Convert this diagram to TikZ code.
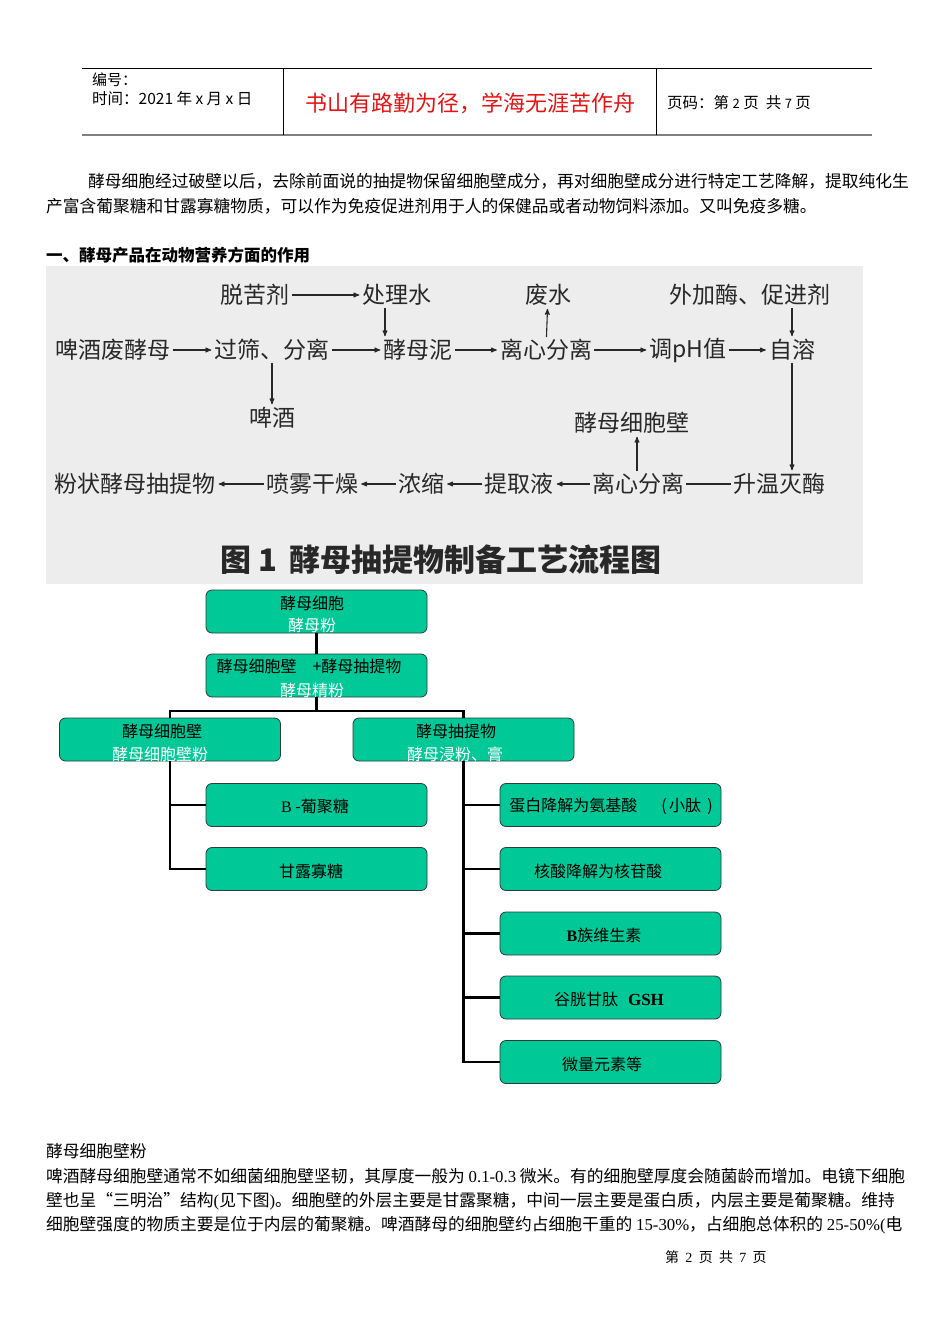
\documentclass[tikz,border=0pt]{standalone}
\usepackage{fontspec}
\setmainfont{Noto Sans CJK SC}
\newfontfamily\latinserif{Liberation Serif}
\usepackage{tikz}
\usetikzlibrary{arrows}

\definecolor{boxgreen}{RGB}{0,200,150}
\definecolor{boxline}{RGB}{45,60,55}
\definecolor{scanbg}{RGB}{237,237,237}
\definecolor{scanink}{RGB}{40,40,40}
\definecolor{mottored}{RGB}{228,20,20}
\newcommand{\setpx}[1]{\fontsize{#1}{#1}\selectfont}

\begin{document}
\begin{tikzpicture}
[x=1pt,y=-1pt,every node/.style={inner sep=0pt},
  bodytext/.style={anchor=west,font=\setpx{16.75}},
  scantext/.style={text=scanink,font=\setpx{23},inner sep=2pt},
  scanarrow/.style={->,>=stealth',draw=scanink,line width=1.1pt,shorten >=1pt},
  treebox/.style={draw=boxline,fill=boxgreen,rounded corners=6pt,minimum width=221pt,minimum height=43pt,line width=0.8pt},
  boxtitle/.style={font=\setpx{16}},
  boxsub/.style={font=\setpx{16},text=white},
  treeline/.style={line width=2.4pt,draw=black}]
  \useasboundingbox (0,0) rectangle (950,1344);
  \fill[white] (0,0) rectangle (950,1344);

  % header
  \draw[line width=0.8pt] (82,68) -- (872,68);
  \draw[line width=2pt,draw=gray] (82,135) -- (872,135);
  \draw[line width=0.8pt] (283,68) -- (283,135);
  \draw[line width=0.8pt] (656,68) -- (656,135);
  \node[anchor=west,font=\setpx{15}] (hd1) at (92,80) {编号：};
  \node[anchor=west,font=\setpx{15.5}] (hd2) at (92,99) {时间：2021 年\ x\ 月\ x\ 日};
  \node[text=mottored,font=\setpx{22}] (hd3) at (470,103) {书山有路勤为径，学海无涯苦作舟};
  \node[anchor=west,font=\setpx{15.5}] (hd4) at (667,103) {页码：第 {\setpx{13}2} 页\ \ 共 {\setpx{13}7} 页};

  % text above
  \node[bodytext] (p1) at (88,181) {酵母细胞经过破壁以后，去除前面说的抽提物保留细胞壁成分，再对细胞壁成分进行特定工艺降解，提取纯化生};
  \node[bodytext] (p2) at (46,206) {产富含葡聚糖和甘露寡糖物质，可以作为免疫促进剂用于人的保健品或者动物饲料添加。又叫免疫多糖。};
  \node[bodytext,font=\setpx{16.5}\bfseries] (h1) at (46,255) {一、酵母产品在动物营养方面的作用};

  % scanned flow chart
  \fill[scanbg] (46,266) rectangle (863,584);
  \node[scantext] (s1) at (255,295) {脱苦剂};
  \node[scantext] (s2) at (397,295) {处理水};
  \node[scantext] (s3) at (548,295) {废水};
  \node[scantext] (s4) at (750,295) {外加酶、促进剂};

  \node[scantext] (q1) at (113,350) {啤酒废酵母};
  \node[scantext] (q2) at (272,350) {过筛、分离};
  \node[scantext] (q3) at (418,350) {酵母泥};
  \node[scantext] (q4) at (546,350) {离心分离};
  \node[scantext] (q5) at (688,350) {调pH值};
  \node[scantext] (q6) at (792,350) {自溶};

  \node[scantext] (r1) at (272,418) {啤酒};
  \node[scantext] (r2) at (632,423) {酵母细胞壁};

  \node[scantext] (t1) at (135,484) {粉状酵母抽提物};
  \node[scantext] (t2) at (312,484) {喷雾干燥};
  \node[scantext] (t3) at (421,484) {浓缩};
  \node[scantext] (t4) at (519,484) {提取液};
  \node[scantext] (t5) at (638,484) {离心分离};
  \node[scantext] (t6) at (779,484) {升温灭酶};

  \node[scantext,font=\setpx{31}\bfseries] (cap) at (441,560) {图 1\, 酵母抽提物制备工艺流程图};

  \foreach \from/\to in {s1/s2,q1/q2,q2/q3,q3/q4,q4/q5,q5/q6,q4/s3,q2/r1,
      t5/t4,t4/t3,t3/t2,t2/t1}
    \draw[scanarrow] (\from) -- (\to);
  \draw[scanarrow] ([xshift=-12]s2.south) -- ([xshift=-12]s2.south |- q3.north);
  \draw[scanarrow] (q6 |- s4.south) -- (q6.north);
  \draw[scanarrow] (q6.south) -- (q6 |- t6.north);
  \draw[scanarrow] ([xshift=-1]t5.north) -- ([xshift=-1]t5.north |- r2.south);
  \draw[draw=scanink,line width=1.1pt] (t6) -- (t5);

  % tree of products
  \node[treebox] (a) at (316.5,611.5) {};
  \node[treebox] (b) at (316.5,675.5) {};
  \node[treebox] (c) at (170,739.5) {};
  \node[treebox] (d) at (463.5,739.5) {};
  \node[treebox] (e) at (316.5,805) {};
  \node[treebox] (f) at (316.5,869) {};
  \node[treebox] (g) at (610.5,805) {};
  \node[treebox] (h) at (610.5,869) {};
  \node[treebox] (i) at (610.5,933.5) {};
  \node[treebox] (j) at (610.5,997.5) {};
  \node[treebox] (k) at (610.5,1062) {};
  \coordinate (bj) at (316.5,711);

  \node[boxtitle] (a1) at (312,603) {酵母细胞};
  \node[boxsub] (a2) at (312,625) {酵母粉};
  \node[boxtitle] (b1) at (309,666) {酵母细胞壁\quad +酵母抽提物};
  \node[boxsub] (b2) at (312,690) {酵母精粉};
  \node[boxtitle] (c1) at (162,731) {酵母细胞壁};
  \node[boxsub] (c2) at (160,754) {酵母细胞壁粉};
  \node[boxtitle] (d1) at (456,731) {酵母抽提物};
  \node[boxsub] (d2) at (455,754) {酵母浸粉、膏};
  \node[boxtitle] (e1) at (315,806) {{\latinserif B} -葡聚糖};
  \node[boxtitle] (f1) at (311,871) {甘露寡糖};
  \node[boxtitle] (g1) at (611,806) {蛋白降解为氨基酸\hspace{24pt}({\setpx{15}\,}小肽 {\setpx{15}\,})};
  \node[boxtitle] (h1) at (598,871) {核酸降解为核苷酸};
  \node[boxtitle] (i1) at (604,935) {{\latinserif\bfseries B}族维生素};
  \node[boxtitle] (j1) at (609,999) {谷胱甘肽\hspace{10pt}{\latinserif\bfseries\setpx{17}GSH}};
  \node[boxtitle] (k1) at (602,1064) {微量元素等};

  \draw[treeline] (a) -- (b);
  \draw[treeline] (b) -- (bj);
  \draw[treeline] (bj) -| (c);
  \draw[treeline] (bj) -| (d);
  \foreach \to in {e,f}
    \draw[treeline] (c.south) |- (\to);
  \foreach \to in {g,h,i,j,k}
    \draw[treeline] (d.south) |- (\to);

  % text below
  \node[bodytext] (u0) at (46,1151) {酵母细胞壁粉};
  \node[bodytext] (u1) at (46,1176) {啤酒酵母细胞壁通常不如细菌细胞壁坚韧，其厚度一般为 {\latinserif 0.1-0.3} 微米。有的细胞壁厚度会随菌龄而增加。电镜下细胞};
  \node[bodytext] (u2) at (46,1201) {壁也呈“三明治”结构{\latinserif (}见下图{\latinserif )}。细胞壁的外层主要是甘露聚糖，中间一层主要是蛋白质，内层主要是葡聚糖。维持};
  \node[bodytext] (u3) at (46,1225) {细胞壁强度的物质主要是位于内层的葡聚糖。啤酒酵母的细胞壁约占细胞干重的 {\latinserif 15-30\%}，占细胞总体积的 {\latinserif 25-50\%(}电};
  \node[anchor=west,font=\setpx{14}] (ft) at (665,1257) {第\ \ {\latinserif 2}\ \ 页\ \ 共\ \ {\latinserif 7}\ \ 页};
\end{tikzpicture}
\end{document}
